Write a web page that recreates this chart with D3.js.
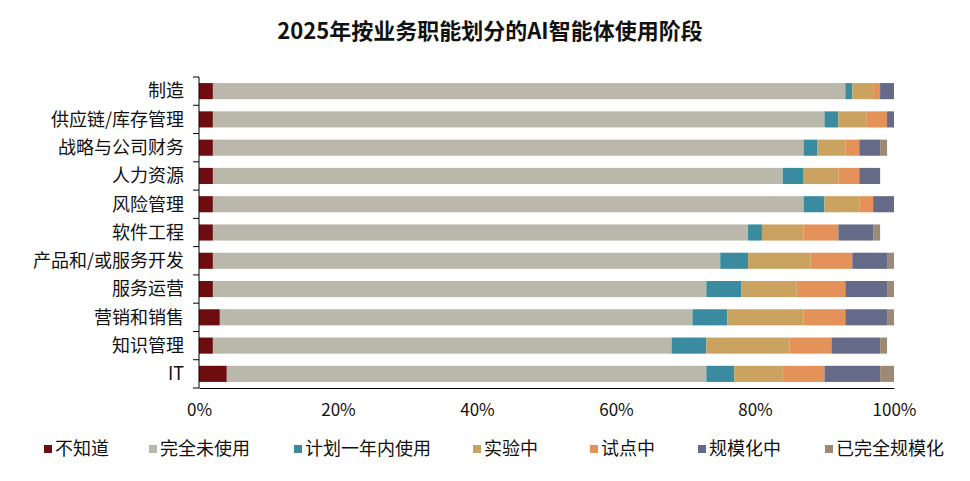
<!DOCTYPE html>
<html lang="zh">
<head>
  <meta charset="UTF-8">
  <title>2025年按业务职能划分的AI智能体使用阶段</title>
  <style>
    body { margin: 0; padding: 0; background: #fff; }
    svg text { font-family: "Noto Sans CJK SC", "DejaVu Sans", sans-serif; fill: #111; }
  </style>
</head>
<body>
  <svg id="chart" width="970" height="481"></svg>

  <script src="https://d3js.org/d3.v7.min.js"></script>
  <script>
    // 数据
    const categories = ["制造", "供应链/库存管理", "战略与公司财务", "人力资源", "风险管理", "软件工程",
      "产品和/或服务开发", "服务运营", "营销和销售", "知识管理", "IT"];
    const stages = ["不知道", "完全未使用", "计划一年内使用", "实验中", "试点中", "规模化中", "已完全规模化"];
    const colors = ["#6e0d0f", "#bab8ab", "#3a8ba0", "#c9a35f", "#e4925a", "#646a88", "#9c8a76"];

    const dontKnow   = [2, 2, 2, 2, 2, 2, 2, 2, 3, 2, 4];
    const notUsed    = [91, 88, 85, 82, 85, 77, 73, 71, 68, 66, 69];
    const planned    = [1, 2, 2, 3, 3, 2, 4, 5, 5, 5, 4];
    const experiment = [3, 4, 4, 5, 5, 6, 9, 8, 11, 12, 7];
    const pilot      = [1, 3, 2, 3, 2, 5, 6, 7, 6, 6, 6];
    const scaling    = [2, 1, 3, 3, 3, 5, 5, 6, 6, 7, 8];
    const fullScale  = [0, 0, 1, 0, 0, 1, 1, 1, 1, 1, 2];
    const xTicks = [0, 20, 40, 60, 80, 100];

    const seriesValues = [dontKnow, notUsed, planned, experiment, pilot, scaling, fullScale];
    const rows = categories.map((c, i) => {
      const r = { name: c };
      stages.forEach((s, k) => r[s] = seriesValues[k][i]);
      return r;
    });

    const svg = d3.select("#chart");
    const margin = { left: 199, right: 76, top: 77, bottom: 93 };
    const width = 970, height = 481;

    const x = d3.scaleLinear().domain([0, 100]).range([margin.left, width - margin.right]);
    const y = d3.scaleBand().domain(categories).range([margin.top, height - margin.bottom]).paddingInner(0.43).paddingOuter(0.215);
    const color = d3.scaleOrdinal().domain(stages).range(colors);

    // 标题
    svg.append("text")
      .attr("x", 490).attr("y", 39)
      .attr("text-anchor", "middle")
      .attr("font-size", 22).attr("font-weight", "bold")
      .text("2025年按业务职能划分的AI智能体使用阶段");

    // 堆叠条形
    const stacked = d3.stack().keys(stages)(rows);
    svg.append("g").selectAll("g")
      .data(stacked)
      .join("g")
      .attr("fill", d => color(d.key))
      .selectAll("rect")
      .data(d => d)
      .join("rect")
      .attr("x", d => x(d[0]))
      .attr("y", d => y(d.data.name))
      .attr("width", d => x(d[1]) - x(d[0]))
      .attr("height", y.bandwidth());

    // y 轴
    const step = y.step();
    const yAxis = svg.append("g");
    yAxis.append("line")
      .attr("x1", margin.left).attr("x2", margin.left)
      .attr("y1", margin.top).attr("y2", height - margin.bottom)
      .attr("stroke", "#000");
    yAxis.selectAll("line.tick")
      .data(d3.range(categories.length + 1))
      .join("line")
      .attr("class", "tick")
      .attr("x1", margin.left - 6).attr("x2", margin.left)
      .attr("y1", i => margin.top + i * step)
      .attr("y2", i => margin.top + i * step)
      .attr("stroke", "#000");
    yAxis.selectAll("text")
      .data(categories)
      .join("text")
      .attr("x", 184)
      .attr("y", d => y(d) + y.bandwidth() / 2)
      .attr("dy", "0.35em")
      .attr("text-anchor", "end")
      .attr("font-size", 18)
      .text(d => d);

    // x 轴
    const xAxis = svg.append("g").attr("transform", `translate(0,${height - margin.bottom})`)
      .call(d3.axisBottom(x).tickValues(xTicks).tickSize(0).tickPadding(16).tickFormat(d => d + "%"));
    xAxis.select(".domain").attr("stroke", "#000");
    xAxis.selectAll("text")
      .attr("font-size", 17)
      .attr("font-family", "'Liberation Sans Narrow', 'Liberation Sans', sans-serif")
      .attr("fill", "#111");

    // 图例
    const legendX = [44, 149, 294, 473, 590, 698, 825];
    const legend = svg.append("g").selectAll("g")
      .data(stages)
      .join("g")
      .attr("transform", (d, i) => `translate(${legendX[i]},449)`);
    legend.append("rect")
      .attr("x", 0).attr("y", -4)
      .attr("width", 8).attr("height", 8)
      .attr("fill", d => color(d));
    legend.append("text")
      .attr("x", 11).attr("dy", "0.35em")
      .attr("font-size", 18)
      .text(d => d);
  </script>
</body>
</html>
